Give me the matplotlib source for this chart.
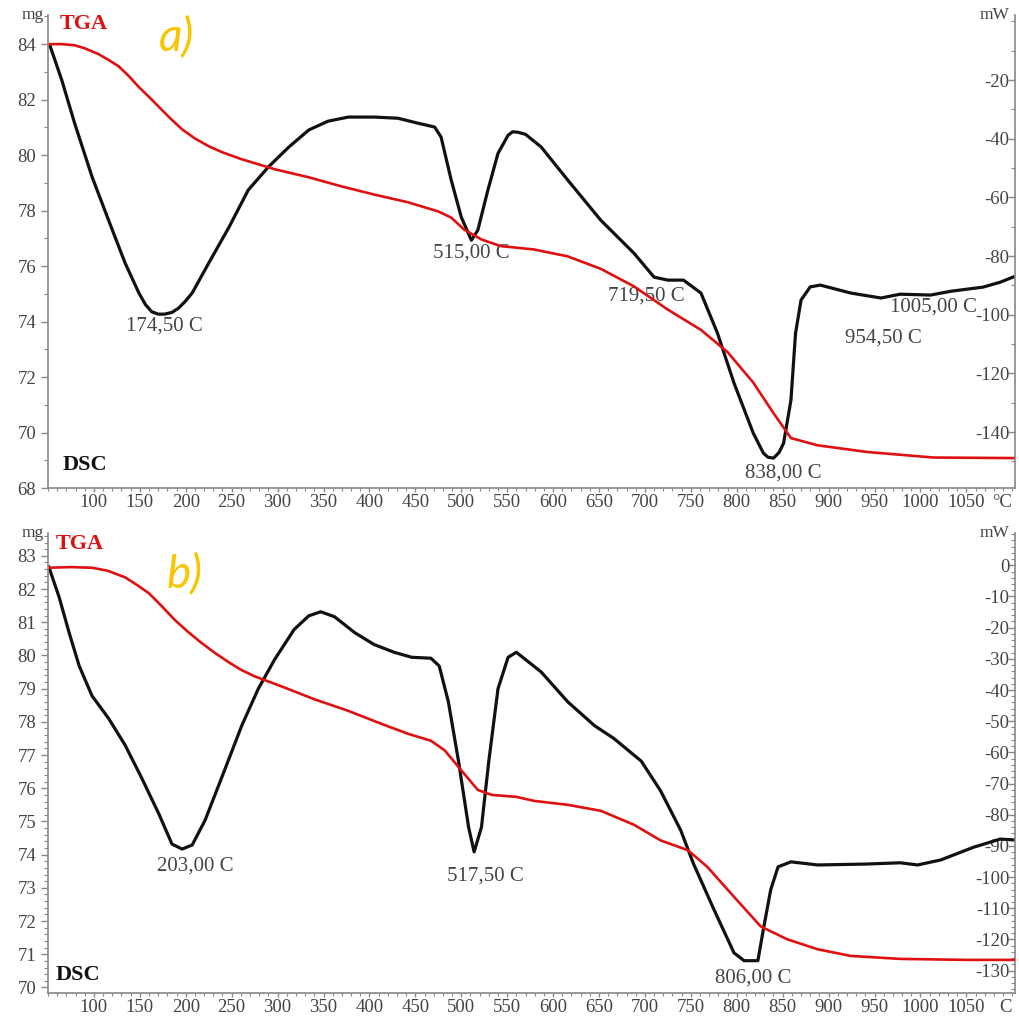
import matplotlib
matplotlib.use("Agg")
import matplotlib.pyplot as plt
from matplotlib.ticker import MultipleLocator, FixedLocator

plt.rcParams['font.family'] = ['Liberation Serif', 'DejaVu Serif']
plt.rcParams['axes.unicode_minus'] = False

# ---- panel a) ----
a_tga_T = [52, 65, 79, 90, 105, 115, 127, 138, 149, 160, 171, 183, 196, 210, 225, 240, 261, 297,
           334, 370, 405, 442, 475, 489, 503, 522, 543, 579, 616, 652, 688, 725, 761, 790, 818,
           840, 859, 888, 942, 1014, 1101]
a_tga_mg = [84.0, 84.0, 83.96, 83.85, 83.64, 83.45, 83.2, 82.85, 82.45, 82.1, 81.73, 81.33, 80.93,
            80.6, 80.32, 80.1, 79.85, 79.49, 79.2, 78.87, 78.58, 78.3, 77.97, 77.75, 77.32, 76.96,
            76.72, 76.6, 76.35, 75.9, 75.27, 74.43, 73.7, 72.9, 71.8, 70.7, 69.8, 69.54, 69.3,
            69.1, 69.08]

a_dsc_T = [52, 65, 79, 98, 116, 134, 149, 156, 163, 170, 177, 185, 192, 199, 207, 225, 247, 268,
           290, 312, 334, 355, 377, 405, 431, 453, 471, 478, 489, 500, 511, 518, 529, 540, 551,
           556, 562, 570, 587, 616, 652, 688, 710, 725, 742, 761, 779, 797, 818, 829, 834, 840,
           846, 851, 859, 864, 870, 880, 891, 924, 957, 978, 1011, 1033, 1068, 1087, 1103]
a_dsc_mW = [-8.1, -20, -34.7, -53, -67.8, -82.4, -92.6, -96.5, -99, -99.8, -99.8, -99.2, -97.8,
            -95.6, -92.6, -82.4, -70.2, -57.5, -49.6, -42.9, -37, -34, -32.6, -32.6, -33, -34.7,
            -36, -39.4, -54, -66.7, -74.6, -71.2, -57.5, -45, -38.8, -37.6, -37.8, -38.5, -42.8,
            -54.1, -67.8, -79, -87.2, -88.2, -88.2, -92.6, -106.3, -123.3, -140.4, -147.2,
            -148.6, -148.9, -147, -143.8, -129.1, -106.3, -95, -90.5, -89.9, -92.6, -94.3, -93,
            -93.3, -92, -90.6, -88.9, -86.9]

a_peaks = ["174,50 C", "515,00 C", "719,50 C", "1005,00 C", "954,50 C", "838,00 C"]
a_peak_T = [177, 511, 701, 1014, 960, 851]
a_peak_mW = [-104, -79, -93.5, -97.5, -108, -154]

# ---- panel b) ----
b_tga_T = [51, 75, 98, 115, 134, 147, 160, 174, 188, 202, 217, 232, 247, 260, 275, 304, 340, 377,
           413, 442, 467, 482, 500, 518, 533, 560, 579, 616, 652, 688, 717, 747, 768, 797, 826,
           855, 888, 924, 978, 1051, 1103]
b_tga_mg = [82.64, 82.66, 82.64, 82.55, 82.35, 82.12, 81.87, 81.48, 81.07, 80.72, 80.38, 80.07,
            79.79, 79.57, 79.37, 79.07, 78.68, 78.33, 77.94, 77.64, 77.43, 77.14, 76.54, 75.95,
            75.8, 75.74, 75.62, 75.5, 75.32, 74.9, 74.43, 74.13, 73.63, 72.73, 71.84, 71.45,
            71.15, 70.95, 70.86, 70.83, 70.83]

b_dsc_T = [51, 62, 73, 84, 98, 116, 134, 152, 171, 185, 196, 207, 221, 239, 261, 279, 297, 318,
           334, 347, 362, 384, 405, 427, 446, 467, 476, 486, 497, 508, 514, 522, 530, 540, 551,
           560, 587, 616, 645, 666, 696, 717, 739, 753, 775, 797, 808, 823, 829, 837, 845, 859,
           888, 942, 978, 997, 1022, 1058, 1087, 1103]
b_dsc_mW = [-0.6, -10.1, -21.6, -32.3, -41.9, -49.1, -57.7, -68.2, -79.9, -89.4, -91, -89.7,
            -81.8, -68.2, -51.4, -39.6, -30.1, -20.6, -16.2, -14.9, -16.5, -21.6, -25.4, -27.9,
            -29.5, -29.8, -32.3, -43.8, -62.8, -84, -91.9, -84, -62.8, -39.6, -29.5, -27.9, -34.2,
            -43.8, -51.4, -55.5, -62.8, -72.3, -85, -95.8, -110.3, -124.3, -126.8, -126.8, -116.7,
            -104, -96.7, -95.1, -96.1, -95.8, -95.4, -96.1, -94.5, -90.4, -87.8, -88.1]

b_peaks = ["203,00 C", "517,50 C", "806,00 C"]
b_peak_T = [210, 526, 818]
b_peak_mW = [-96.5, -99.5, -132.5]

x_ticks = list(range(100, 1051, 50))
a_mw_ticks = list(range(-160, -19, 20))
b_mw_ticks = list(range(-130, 1, 10))

RED = "#e01010"
GREY = "#888888"
TXT = "#444444"
GOLD = "#f7c600"


def style_panel(ax, ax2, mg_lim, mw_lim, mg_major, mg_minor, mw_ticks, mw_minor, deg):
    ax.set_xlim(50, 1103)
    ax.set_ylim(*mg_lim)
    ax2.set_ylim(*mw_lim)
    ax.set_xticks(x_ticks)
    ax.xaxis.set_minor_locator(MultipleLocator(10))
    ax.yaxis.set_major_locator(MultipleLocator(mg_major))
    ax.yaxis.set_minor_locator(MultipleLocator(mg_minor))
    ax2.yaxis.set_major_locator(FixedLocator(mw_ticks))
    ax2.yaxis.set_minor_locator(MultipleLocator(mw_minor))
    for a in (ax, ax2):
        a.spines['top'].set_visible(False)
        for s in a.spines.values():
            s.set_color(GREY)
            s.set_linewidth(1.2)
    ax.spines['right'].set_visible(False)
    ax2.spines['left'].set_visible(False)
    ax2.spines['bottom'].set_visible(False)
    ax.tick_params(axis='both', which='major', labelsize=13.5, colors=GREY, labelcolor=TXT,
                   length=5, width=1)
    ax.tick_params(axis='both', which='minor', colors=GREY, length=3, width=0.8)
    ax.tick_params(axis='x', which='major', length=3, pad=1)
    ax.tick_params(axis='x', which='minor', length=2)
    ax2.tick_params(axis='y', which='major', direction='in', labelsize=13.5, colors=GREY,
                    labelcolor=TXT, length=5, width=1, pad=-4)
    ax2.tick_params(axis='y', which='minor', direction='in', colors=GREY, length=3, width=0.8)
    for t in ax2.get_yticklabels():
        t.set_horizontalalignment('right')
    ax.text(-0.004, 1.0, "mg", transform=ax.transAxes, ha='right', va='center',
            fontsize=12.5, color=TXT)
    ax2.text(0.994, 1.0, "mW", transform=ax2.transAxes, ha='right', va='center',
             fontsize=12.5, color=TXT)
    ax.text(0.997, -0.03, deg, transform=ax.transAxes, ha='right', va='center',
            fontsize=13.5, color=TXT)


fig = plt.figure(figsize=(10.19, 10.21), dpi=100)

ax_a = fig.add_axes([0.0471, 0.522, 0.949, 0.4633])
ax_a2 = ax_a.twinx()
ax_a2.plot(a_dsc_T, a_dsc_mW, color='#111111', lw=2.3, solid_joinstyle='round')
ax_a.plot(a_tga_T, a_tga_mg, color=RED, lw=1.9, solid_joinstyle='round')
ax_a.set_zorder(ax_a2.get_zorder() + 1)
ax_a.patch.set_visible(False)
style_panel(ax_a, ax_a2, (68, 85.05), (-159.1, 2.2), 2, 1, a_mw_ticks, 10, "°C")
for lab, t, m in zip(a_peaks, a_peak_T, a_peak_mW):
    ax_a2.text(t, m, lab, ha='center', va='center', fontsize=15, color=TXT)
ax_a.text(0.012, 0.98, "TGA", transform=ax_a.transAxes, fontsize=16, fontweight='bold',
          color=RED, va='center')
ax_a.text(0.015, 0.048, "DSC", transform=ax_a.transAxes, fontsize=16, fontweight='bold',
          color='#111111', va='center')
ax_a.text(0.115, 0.955, "a)", transform=ax_a.transAxes, fontsize=33, style='italic',
          color=GOLD, family='Lato', va='center')

ax_b = fig.add_axes([0.0471, 0.027, 0.949, 0.4514])
ax_b2 = ax_b.twinx()
ax_b2.plot(b_dsc_T, b_dsc_mW, color='#111111', lw=2.3, solid_joinstyle='round')
ax_b.plot(b_tga_T, b_tga_mg, color=RED, lw=1.9, solid_joinstyle='round')
ax_b.set_zorder(ax_b2.get_zorder() + 1)
ax_b.patch.set_visible(False)
style_panel(ax_b, ax_b2, (69.82, 83.7), (-137.3, 10.5), 1, 0.2, b_mw_ticks, 2, "C")
for lab, t, m in zip(b_peaks, b_peak_T, b_peak_mW):
    ax_b2.text(t, m, lab, ha='center', va='center', fontsize=15, color=TXT)
ax_b.text(0.008, 0.975, "TGA", transform=ax_b.transAxes, fontsize=16, fontweight='bold',
          color=RED, va='center')
ax_b.text(0.008, 0.04, "DSC", transform=ax_b.transAxes, fontsize=16, fontweight='bold',
          color='#111111', va='center')
ax_b.text(0.123, 0.91, "b)", transform=ax_b.transAxes, fontsize=33, style='italic',
          color=GOLD, family='Lato', va='center')

fig.savefig("out.png", dpi=100)
